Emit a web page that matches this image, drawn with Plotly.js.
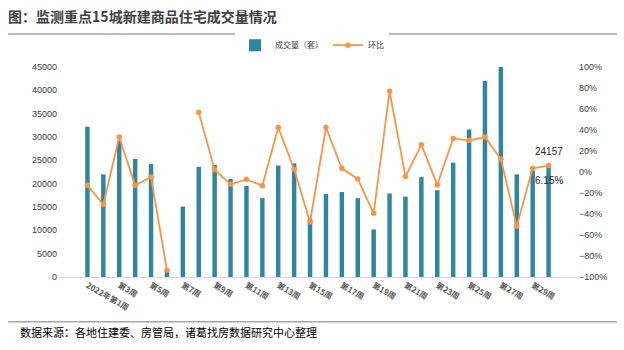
<!DOCTYPE html>
<html>
<head>
<meta charset="utf-8">
<script src="https://cdn.plot.ly/plotly-3.0.1.min.js"></script>
<style>html,body{margin:0;padding:0;background:#fff;}#chart{width:624px;height:350px;}</style>
</head>
<body>
<div id="chart"></div>
<script>
const weeks = ["2022年第1周","第2周","第3周","第4周","第5周","第6周","第7周","第8周","第9周","第10周",
  "第11周","第12周","第13周","第14周","第15周","第16周","第17周","第18周","第19周","第20周",
  "第21周","第22周","第23周","第24周","第25周","第26周","第27周","第28周","第29周","第30周"];
const volume = [32200,22000,29200,25300,24200,1500,15100,23600,24000,21000,
  19500,16900,23900,24350,12500,17800,18200,16900,10200,17900,
  17200,21400,18600,24500,31600,42000,45200,22000,22757,24157];
const momPct = [-12.7,-31,33.3,-12.7,-4.7,-93.6,null,57,2.2,-11.7,
  -7,-13,42.3,2.6,-47.6,42.3,3.5,-6.6,-39.4,76.9,
  -4.4,26,-12.3,32,29.9,33.3,12.4,-51.7,3.5,6.15];
const volName = "成交量（套）";
const pctName = "环比";
const titleText = "图：监测重点15城新建商品住宅成交量情况";
const sourceText = "数据来源：各地住建委、房管局，诸葛找房数据研究中心整理";

const last = weeks.length - 1;

const traces = [
  {type:"bar", x:weeks, y:volume, name:volName, marker:{color:"#31859C"}},
  {type:"scatter", mode:"lines+markers", x:weeks, y:momPct, yaxis:"y2", name:pctName,
   line:{color:"#F79646", width:1.8}, marker:{color:"#F79646", size:5.5},
   connectgaps:false, cliponaxis:false}
];

const labelFont = {family:"Liberation Sans, Arial", size:10, color:"#262626"};

const layout = {
  width:624, height:350,
  margin:{l:58, r:46, t:67, b:73, pad:0},
  paper_bgcolor:"#fff", plot_bgcolor:"#fff",
  bargap:0.72,
  showlegend:true,
  title:{text:titleText, x:0.013, xanchor:"left", xref:"container", y:0.951, yanchor:"middle", yref:"container",
    font:{family:"Noto Sans CJK SC", size:14, color:"#404040", weight:700}},
  legend:{orientation:"h", x:0.5, xanchor:"center", xref:"container", y:0.871, yanchor:"middle", yref:"container",
    font:{family:"Noto Sans CJK SC", size:8, color:"#404040"}, tracegroupgap:0},
  xaxis:{type:"category", dtick:2, tickangle:30, showgrid:false, showline:true, linecolor:"#d9d9d9", linewidth:1,
    ticks:"", tickfont:{family:"Noto Sans CJK SC", size:8, color:"#595959", weight:700}, automargin:false},
  yaxis:{range:[0,45000], dtick:5000, tickformat:"d", showgrid:false, zeroline:false, showline:false, ticks:"",
    tickfont:{family:"Liberation Sans, Arial", size:9, color:"#404040"}, automargin:false},
  yaxis2:{range:[-100,100], dtick:20, overlaying:"y", side:"right", showgrid:false, zeroline:false, showline:false,
    ticks:"", ticksuffix:"%", tickfont:{family:"Liberation Sans, Arial", size:9, color:"#404040"}, automargin:false},
  shapes:[
    {type:"line", xref:"paper", yref:"paper", x0:-0.096, x1:1.075, y0:1.157, y1:1.157, line:{color:"#a6a6a6", width:1.5}},
    {type:"line", xref:"paper", yref:"paper", x0:-0.096, x1:1.075, y0:-0.213, y1:-0.213, line:{color:"#a6a6a6", width:1.5}}
  ],
  annotations:[
    {text:sourceText, xref:"paper", yref:"paper", x:-0.077, y:-0.262, xanchor:"left", yanchor:"middle", showarrow:false,
     font:{family:"Noto Sans CJK SC", size:11, color:"#000"}},
    {text:String(volume[last]), xref:"x", yref:"y", x:weeks[last], y:volume[last], xanchor:"center", yanchor:"bottom",
     yshift:5, showarrow:false, font:labelFont},
    {text:momPct[last].toFixed(2)+"%", xref:"x", yref:"y2", x:weeks[last], y:momPct[last], xanchor:"center", yanchor:"top",
     yshift:-7, showarrow:false, font:labelFont}
  ]
};
Plotly.newPlot("chart", traces, layout, {displayModeBar:false, staticPlot:true});
</script>
</body>
</html>
